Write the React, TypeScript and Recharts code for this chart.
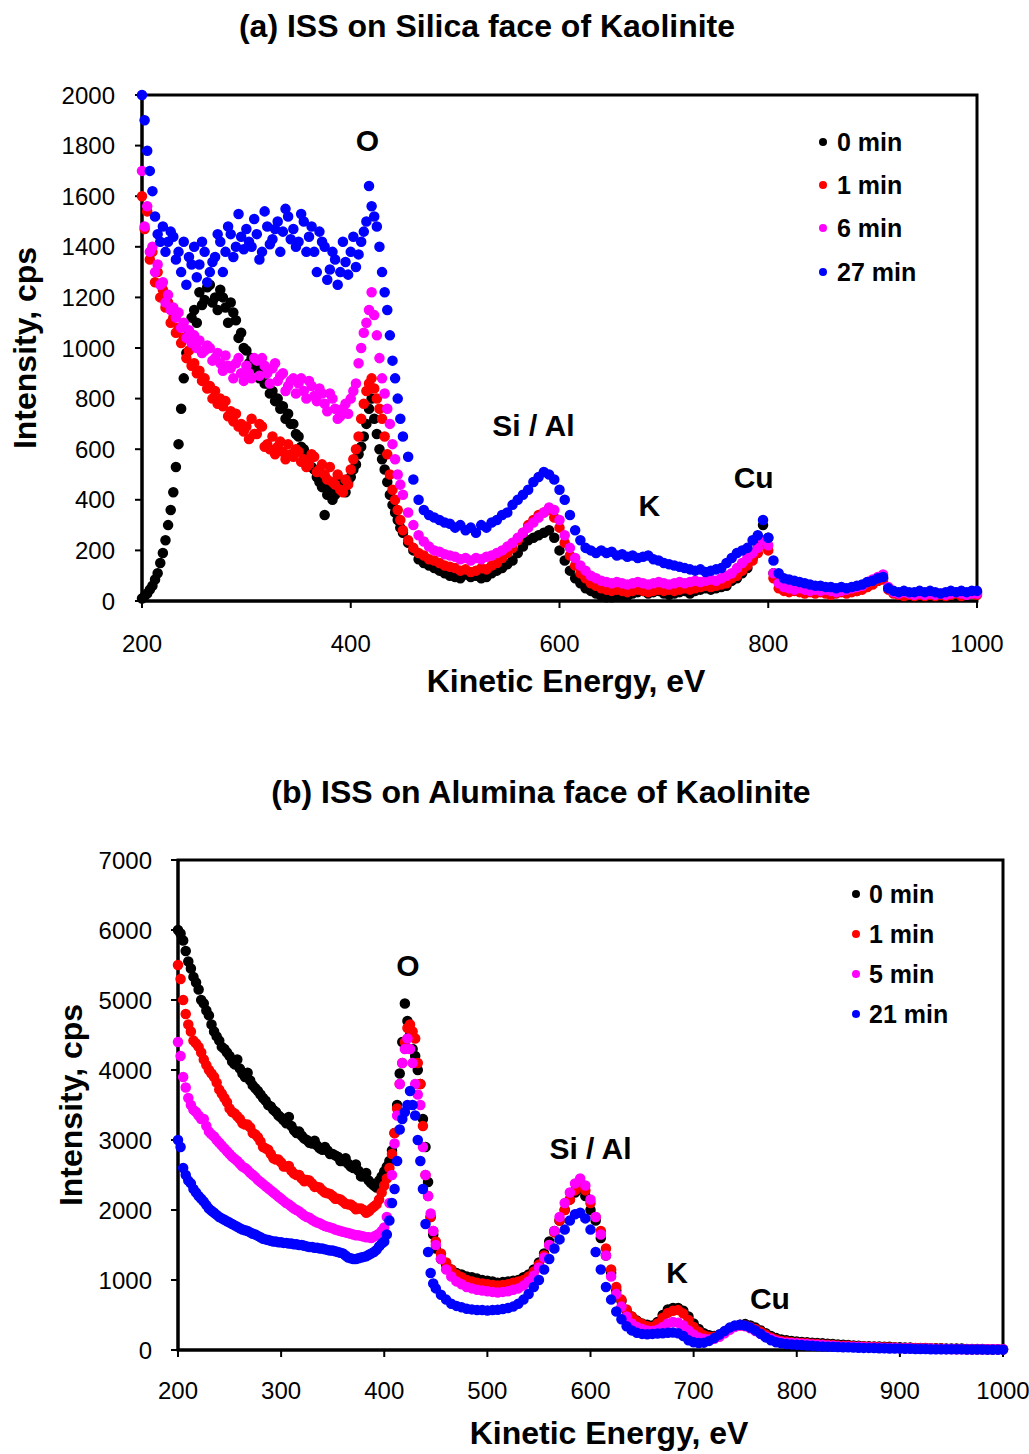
import React from 'react';
import { ScatterChart, Scatter, XAxis, YAxis, ZAxis, ReferenceArea, ReferenceDot } from 'recharts';

// kinetic energy grid, eV
const energy = [
  200, 205, 210, 215, 220, 225, 230, 235, 240, 245,
  250, 255, 260, 265, 270, 275, 280, 285, 290, 295,
  300, 305, 310, 315, 320, 325, 330, 335, 340, 345,
  350, 355, 360, 365, 370, 375, 380, 385, 390, 395,
  400, 405, 410, 415, 420, 425, 430, 435, 440, 445,
  450, 455, 460, 465, 470, 475, 480, 485, 490, 495,
  500, 505, 510, 515, 520, 525, 530, 535, 540, 545,
  550, 555, 560, 565, 570, 575, 580, 585, 590, 595,
  600, 605, 610, 615, 620, 625, 630, 635, 640, 645,
  650, 655, 660, 665, 670, 675, 680, 685, 690, 695,
  700, 705, 710, 715, 720, 725, 730, 735, 740, 745,
  750, 755, 760, 765, 770, 775, 780, 785, 790, 795,
  800, 805, 810, 815, 820, 825, 830, 835, 840, 845,
  850, 855, 860, 865, 870, 875, 880, 885, 890, 895,
  900, 905, 910, 915, 920, 925, 930, 935, 940, 945,
  950, 955, 960, 965, 970, 975, 980, 985, 990, 995,
  1000,
];
// extra readings in the dense low-energy part
const energyHalf = [
  202.5, 207.5, 212.5, 217.5, 222.5, 227.5, 232.5, 237.5, 242.5, 247.5,
  252.5, 257.5, 262.5, 267.5, 272.5, 277.5, 282.5, 287.5, 292.5, 297.5,
  302.5, 307.5, 312.5, 317.5, 322.5, 327.5, 332.5, 337.5, 342.5, 347.5,
  352.5, 357.5, 362.5, 367.5, 372.5, 377.5, 382.5, 387.5, 392.5, 397.5,
  402.5, 407.5, 412.5, 417.5, 422.5, 427.5, 432.5, 437.5, 442.5, 447.5,
];

// (a) silica face, cps
const silica0 = [
  10, 30, 60, 110, 190, 300, 430, 620, 880, 1060,
  1150, 1220, 1190, 1250, 1200, 1230, 1160, 1180, 1110, 1060,
  990, 960, 930, 900, 860, 830, 800, 770, 740, 700,
  650, 600, 560, 520, 470, 340, 450, 420, 470, 430,
  490, 540, 610, 700, 800, 660, 560, 470, 380, 320,
  270, 230, 200, 165, 150, 140, 130, 120, 110, 100,
  95, 90, 105, 95, 100, 90, 95, 110, 120, 130,
  145, 160, 190, 215, 240, 250, 260, 270, 280, 250,
  200, 160, 120, 90, 70, 50, 40, 30, 20, 15,
  15, 20, 25, 20, 30, 35, 40, 30, 35, 40,
  30, 25, 30, 35, 40, 30, 40, 45, 50, 45,
  50, 55, 60, 80, 90, 110, 130, 170, 220, 300,
  250, 110, 80, 70, 60, 65, 55, 60, 50, 55,
  50, 45, 50, 40, 45, 40, 45, 40, 50, 60,
  70, 80, 90, 50, 35, 30, 35, 30, 25, 30,
  25, 30, 25, 20, 25, 30, 25, 30, 25, 30,
  35,
];
const silica0Half = [
  20, 45, 85, 150, 240, 360, 530, 760, 980, 1120,
  1100, 1170, 1240, 1180, 1150, 1200, 1100, 1140, 1040, 1000,
  940, 920, 880, 860, 820, 790, 760, 720, 700, 660,
  610, 580, 530, 490, 450, 420, 400, 440, 450, 470,
  520, 580, 650, 760, 720, 600, 520, 420, 350, 290,
];
const silica1 = [
  1600, 1540, 1380, 1300, 1230, 1180, 1120, 1080, 1040, 990,
  940, 910, 880, 850, 830, 800, 790, 750, 740, 700,
  690, 720, 660, 690, 620, 650, 610, 590, 620, 570,
  590, 560, 540, 570, 520, 500, 530, 460, 440, 480,
  520, 600, 720, 830, 880, 800, 720, 580, 440, 360,
  280, 240, 210, 190, 180, 165, 160, 150, 140, 135,
  130, 120, 125, 115, 120, 130, 125, 140, 150, 170,
  190, 210, 240, 270, 300, 320, 340, 350, 360, 330,
  290, 230, 180, 140, 110, 90, 70, 60, 50, 45,
  40, 45, 40, 35, 40, 45, 40, 35, 40, 45,
  40, 45, 40, 45, 50, 45, 50, 55, 60, 55,
  60, 65, 70, 90, 100, 120, 140, 160, 190, 220,
  200, 90, 50, 40, 35, 40, 35, 30, 35, 30,
  35, 30, 25, 30, 35, 30, 35, 40, 45, 55,
  65, 80, 85, 45, 30, 25, 20, 25, 20, 25,
  20, 25, 20, 25, 20, 25, 30, 20, 25, 30,
  25,
];
const silica1Half = [
  1470, 1350, 1260, 1200, 1160, 1100, 1060, 1020, 960, 930,
  900, 870, 840, 800, 780, 770, 730, 710, 690, 670,
  640, 660, 700, 610, 600, 580, 630, 560, 580, 600,
  550, 530, 580, 510, 540, 480, 470, 500, 430, 460,
  560, 650, 780, 860, 840, 760, 650, 500, 400, 320,
];
const silica6 = [
  1700, 1560, 1400, 1330, 1260, 1210, 1160, 1140, 1100, 1070,
  1050, 1030, 990, 1000, 960, 940, 970, 920, 940, 900,
  930, 880, 950, 960, 900, 920, 870, 900, 850, 880,
  860, 830, 870, 810, 840, 780, 820, 760, 730, 780,
  800, 860, 1000, 1100, 1220, 1050, 880, 760, 620, 500,
  420, 350, 300, 260, 235, 215, 200, 195, 185, 180,
  175, 165, 170, 160, 170, 165, 175, 180, 190, 200,
  215, 230, 250, 270, 290, 310, 330, 350, 370, 360,
  320, 260, 210, 170, 140, 120, 100, 90, 80, 75,
  70, 75, 70, 65, 70, 75, 70, 65, 70, 75,
  70, 65, 70, 75, 70, 75, 80, 75, 80, 85,
  80, 90, 100, 110, 130, 150, 170, 190, 210, 240,
  220, 110, 70, 55, 50, 45, 50, 45, 40, 45,
  40, 45, 40, 35, 40, 45, 50, 55, 60, 75,
  85, 95, 105, 55, 35, 30, 35, 30, 25, 30,
  25, 30, 25, 30, 25, 30, 35, 30, 25, 30,
  30,
];
const silica6Half = [
  1480, 1380, 1300, 1250, 1180, 1150, 1120, 1080, 1040, 1020,
  1000, 980, 1010, 950, 980, 910, 930, 880, 960, 870,
  900, 960, 890, 930, 860, 940, 890, 830, 870, 820,
  880, 800, 850, 790, 820, 750, 800, 720, 760, 740,
  830, 940, 1060, 1150, 1130, 960, 820, 700, 560, 460,
];
const silica27 = [
  2000, 1780, 1620, 1450, 1480, 1420, 1440, 1380, 1420, 1360,
  1400, 1330, 1380, 1300, 1360, 1420, 1380, 1450, 1400, 1440,
  1470, 1400, 1450, 1380, 1480, 1430, 1500, 1460, 1520, 1470,
  1420, 1500, 1440, 1380, 1460, 1400, 1310, 1350, 1300, 1340,
  1380, 1320, 1420, 1500, 1560, 1480, 1300, 1150, 950, 800,
  650, 570, 480, 400, 360, 340, 330, 320, 310, 305,
  290, 300, 280, 290, 270, 300, 290, 310, 320, 340,
  350, 380, 400, 420, 440, 470, 490, 510, 500, 480,
  440, 400, 340, 280, 240, 210, 200, 190, 200, 190,
  195, 180, 185, 175, 180, 170, 175, 180, 165, 160,
  150, 145, 140, 135, 130, 125, 120, 125, 115, 120,
  125, 130, 150, 170, 190, 200, 210, 240, 260, 320,
  250, 160, 110, 90, 85, 80, 75, 70, 65, 60,
  60, 55, 55, 50, 55, 50, 55, 60, 65, 75,
  80, 90, 95, 50, 40, 35, 40, 35, 35, 40,
  35, 40, 35, 30, 35, 40, 35, 40, 35, 40,
  40,
];
const silica27Half = [
  1900, 1700, 1520, 1420, 1380, 1460, 1350, 1300, 1250, 1330,
  1280, 1420, 1260, 1340, 1450, 1300, 1480, 1360, 1530, 1390,
  1420, 1510, 1350, 1540, 1410, 1470, 1380, 1550, 1430, 1400,
  1530, 1380, 1480, 1300, 1420, 1270, 1380, 1250, 1420, 1290,
  1440, 1370, 1460, 1640, 1520, 1400, 1220, 1050, 880, 720,
];

// (b) alumina face, cps
const alumina0 = [
  6000, 5850, 5550, 5330, 5150, 4950, 4780, 4550, 4420, 4300,
  4200, 4080, 4020, 3900, 3850, 3740, 3650, 3560, 3480, 3400,
  3320, 3240, 3200, 3100, 3060, 3000, 2950, 2920, 2860, 2850,
  2800, 2760, 2700, 2660, 2600, 2560, 2480, 2420, 2350, 2420,
  2550, 2700, 3100, 3950, 4950, 4500, 4200, 3800, 2900, 1900,
  1450, 1300, 1220, 1150, 1100, 1080, 1050, 1040, 1020, 1000,
  990, 980, 960, 970, 980, 990, 1000, 1040, 1080, 1150,
  1250, 1380, 1550, 1700, 1850, 2000, 2150, 2250, 2300, 2200,
  2000, 1850, 1600, 1350, 1100, 850, 700, 560, 480, 420,
  380, 360, 350, 400, 500, 580, 600, 600, 560, 480,
  380, 300, 240, 210, 200, 220, 260, 300, 340, 360,
  370, 350, 320, 280, 240, 200, 170, 150, 140, 130,
  120, 115, 110, 105, 100, 95, 90, 85, 80, 75,
  70, 65, 60, 55, 55, 50, 50, 45, 45, 40,
  40, 35, 35, 30, 30, 30, 25, 25, 25, 20,
  20, 20, 20, 15, 15, 15, 15, 10, 10, 10,
  10,
];
const alumina0Half = [
  5950, 5700, 5450, 5250, 5000, 4850, 4650, 4480, 4330, 4250,
  4120, 4150, 3950, 3960, 3780, 3700, 3600, 3500, 3430, 3350,
  3280, 3330, 3140, 3120, 3020, 2960, 2990, 2880, 2900, 2800,
  2780, 2700, 2740, 2620, 2650, 2480, 2530, 2380, 2320, 2480,
  2620, 2850, 3500, 4400, 4700, 4300, 4000, 3300, 2400, 1650,
];
const alumina1 = [
  5500, 5000, 4650, 4420, 4330, 4150, 4000, 3900, 3720, 3600,
  3450, 3380, 3300, 3220, 3180, 3080, 2980, 2880, 2800, 2720,
  2680, 2620, 2560, 2500, 2450, 2430, 2380, 2330, 2280, 2240,
  2200, 2160, 2120, 2080, 2050, 2020, 2000, 1980, 2050, 2150,
  2350, 2600, 3100, 3800, 4400, 4650, 4450, 3800, 2500, 1900,
  1550, 1380, 1250, 1150, 1080, 1040, 1000, 980, 960, 950,
  940, 930, 920, 930, 940, 960, 980, 1000, 1050, 1120,
  1220, 1350, 1500, 1680, 1850, 2000, 2150, 2280, 2350, 2280,
  2100, 1900, 1700, 1450, 1150, 900, 720, 580, 480, 410,
  370, 340, 330, 380, 460, 530, 560, 570, 520, 430,
  330, 260, 210, 190, 190, 210, 250, 300, 340, 350,
  350, 330, 300, 260, 220, 180, 150, 130, 120, 110,
  105, 100, 95, 90, 85, 80, 75, 70, 65, 60,
  60, 55, 50, 50, 45, 45, 40, 40, 35, 35,
  30, 30, 30, 25, 25, 25, 20, 20, 20, 15,
  15, 15, 15, 10, 10, 10, 10, 10, 10, 10,
  10,
];
const alumina1Half = [
  5300, 4800, 4550, 4380, 4250, 4070, 3950, 3820, 3660, 3540,
  3400, 3340, 3240, 3220, 3100, 3040, 2900, 2860, 2740, 2720,
  2620, 2630, 2520, 2500, 2410, 2420, 2330, 2320, 2250, 2230,
  2160, 2150, 2090, 2080, 2010, 2020, 1960, 2020, 2080, 2250,
  2450, 2800, 3450, 4100, 4600, 4550, 4100, 3200, 2200, 1700,
];
const alumina5 = [
  4400, 3900, 3600, 3430, 3350, 3300, 3120, 3050, 2960, 2880,
  2800, 2730, 2660, 2600, 2530, 2470, 2400, 2340, 2280, 2220,
  2160, 2100, 2050, 2000, 1950, 1900, 1860, 1820, 1790, 1760,
  1740, 1710, 1690, 1670, 1650, 1640, 1620, 1610, 1620, 1660,
  1750, 2100, 2950, 3800, 4300, 4300, 3800, 3500, 2500, 1950,
  1500, 1300, 1150, 1050, 980, 940, 900, 880, 860, 850,
  840, 830, 820, 830, 840, 860, 880, 920, 980, 1060,
  1180, 1320, 1500, 1700, 1900, 2100, 2250, 2380, 2450, 2350,
  2150, 1900, 1650, 1350, 1050, 800, 620, 480, 380, 330,
  300, 280, 270, 290, 330, 380, 400, 390, 350, 280,
  220, 180, 160, 150, 160, 190, 240, 290, 330, 350,
  340, 310, 270, 230, 190, 160, 130, 115, 105, 100,
  95, 90, 85, 80, 75, 70, 65, 60, 55, 50,
  50, 45, 45, 40, 40, 35, 35, 30, 30, 30,
  25, 25, 25, 20, 20, 20, 20, 15, 15, 15,
  15, 10, 10, 10, 10, 10, 10, 10, 10, 10,
  10,
];
const alumina5Half = [
  4200, 3750, 3500, 3400, 3300, 3200, 3080, 3000, 2920, 2840,
  2760, 2700, 2620, 2570, 2500, 2430, 2370, 2310, 2250, 2190,
  2130, 2080, 2020, 1980, 1920, 1890, 1840, 1810, 1770, 1750,
  1720, 1700, 1680, 1660, 1640, 1630, 1610, 1600, 1640, 1700,
  1900, 2500, 3350, 4100, 4450, 4100, 3650, 2900, 2200, 1700,
];
const alumina21 = [
  3000, 2600, 2420, 2300, 2200, 2120, 2020, 1960, 1900, 1860,
  1820, 1780, 1740, 1710, 1680, 1650, 1610, 1580, 1560, 1550,
  1540, 1530, 1520, 1510, 1500, 1480, 1470, 1460, 1450, 1430,
  1420, 1400, 1380, 1320, 1300, 1310, 1330, 1360, 1400, 1480,
  1550, 1850, 2300, 3150, 3400, 3700, 3350, 2700, 1800, 1100,
  880, 790, 720, 660, 630, 610, 590, 580, 570, 570,
  565, 570, 575, 585, 600, 620, 660, 720, 800, 900,
  1000, 1150, 1300, 1450, 1580, 1720, 1850, 1940, 1960, 1880,
  1720, 1400, 1150, 900, 720, 550, 440, 340, 280, 245,
  230, 225, 230, 235, 240, 245, 250, 240, 200, 140,
  110, 100, 105, 130, 170, 220, 270, 320, 350, 360,
  350, 320, 280, 230, 180, 140, 110, 95, 85, 80,
  75, 70, 65, 60, 55, 50, 48, 45, 42, 40,
  38, 35, 33, 30, 30, 28, 25, 25, 22, 20,
  20, 18, 18, 15, 15, 15, 12, 12, 12, 10,
  10, 10, 10, 8, 8, 8, 8, 5, 5, 5,
  5,
];
const alumina21Half = [
  2900, 2500, 2380, 2250, 2160, 2070, 1990, 1930, 1880, 1840,
  1800, 1760, 1720, 1700, 1660, 1630, 1590, 1570, 1550, 1540,
  1530, 1520, 1510, 1500, 1490, 1470, 1460, 1450, 1440, 1420,
  1410, 1390, 1350, 1310, 1300, 1320, 1340, 1380, 1430, 1520,
  1650, 2100, 2700, 3300, 3500, 3500, 3000, 2300, 1400, 950,
];

const silicaXTicks = [200, 400, 600, 800, 1000];
const silicaYTicks = [0, 200, 400, 600, 800, 1000, 1200, 1400, 1600, 1800, 2000];
const aluminaXTicks = [200, 300, 400, 500, 600, 700, 800, 900, 1000];
const aluminaYTicks = [0, 1000, 2000, 3000, 4000, 5000, 6000, 7000];

const silicaNames = ['0 min', '1 min', '6 min', '27 min'];
const aluminaNames = ['0 min', '1 min', '5 min', '21 min'];
const colors = ['#000000', '#ff0000', '#ff00ff', '#0000ff'];

const FONT = '"Liberation Sans", Arial, Helvetica, sans-serif';

const toPoints = (ys: number[], extra: number[]) => [
  ...ys.map((y, i) => ({ x: energy[i], y })),
  ...extra.map((y, i) => ({ x: energyHalf[i], y })),
];

function Txt({ text, cx, cy, size, bold = true, rotate = false }: any) {
  return (
    <div
      style={{
        position: 'absolute',
        left: cx,
        top: cy,
        transform: `translate(-50%, -50%)${rotate ? ' rotate(-90deg)' : ''}`,
        fontSize: size,
        fontWeight: bold ? 700 : 400,
        lineHeight: 1,
        whiteSpace: 'nowrap',
        color: '#000',
      }}
    >
      {text}
    </div>
  );
}

function LegendBox({ names, dotX, textX, rows }: any) {
  return (
    <>
      {names.map((n: string, i: number) => (
        <React.Fragment key={n}>
          <div
            style={{
              position: 'absolute',
              left: dotX - 4,
              top: rows[i] - 4,
              width: 8,
              height: 8,
              borderRadius: 4,
              background: colors[i],
            }}
          />
          <div
            style={{
              position: 'absolute',
              left: textX,
              top: rows[i] - 12.5,
              fontSize: 25,
              fontWeight: 700,
              lineHeight: 1,
              whiteSpace: 'nowrap',
            }}
          >
            {n}
          </div>
        </React.Fragment>
      ))}
    </>
  );
}

const tickStyle = { fontSize: 24, fill: '#000', fontFamily: FONT };
const axisLine = { stroke: '#000', strokeWidth: 3 };
const tickLine = { stroke: '#000', strokeWidth: 2 };

function note(text: string) {
  return { value: text, position: 'center' as const, fontSize: 30, fontWeight: 700, fill: '#000', fontFamily: FONT };
}

export default function App() {
  const silica = [[silica0, silica0Half], [silica1, silica1Half], [silica6, silica6Half], [silica27, silica27Half]];
  const alumina = [[alumina0, alumina0Half], [alumina1, alumina1Half], [alumina5, alumina5Half], [alumina21, alumina21Half]];
  return (
    <div style={{ position: 'absolute', left: 0, top: 0, width: 1029, height: 1454, background: '#fff', fontFamily: FONT }}>
      <div style={{ position: 'absolute', left: 0, top: 0 }}>
        <ScatterChart width={1029} height={730} margin={{ top: 95, right: 52, bottom: 69, left: 82 }}>
          <XAxis type="number" dataKey="x" domain={[200, 1000]} ticks={silicaXTicks} interval={0} height={60}
            tick={tickStyle} tickSize={7} tickMargin={27} axisLine={axisLine} tickLine={tickLine} />
          <YAxis type="number" dataKey="y" domain={[0, 2000]} ticks={silicaYTicks} interval={0} width={60}
            tick={tickStyle} tickSize={7} tickMargin={20} axisLine={axisLine} tickLine={tickLine} />
          <ZAxis range={[90, 90]} />
          <ReferenceArea x1={200} x2={1000} y1={0} y2={2000} fill="none" stroke="#000" strokeWidth={3} />
          {silica.map(([ys, extra], i) => (
            <Scatter key={silicaNames[i]} name={silicaNames[i]} data={toPoints(ys, extra)} fill={colors[i]}
              stroke={colors[i]} strokeWidth={1.5} shape="circle" isAnimationActive={false} />
          ))}
          <ReferenceDot x={416} y={1822} r={0} fill="none" stroke="none" label={note('O')} />
          <ReferenceDot x={575} y={696} r={0} fill="none" stroke="none" label={note('Si / Al')} />
          <ReferenceDot x={686} y={379} r={0} fill="none" stroke="none" label={note('K')} />
          <ReferenceDot x={786} y={490} r={0} fill="none" stroke="none" label={note('Cu')} />
        </ScatterChart>
      </div>
      <div style={{ position: 'absolute', left: 0, top: 730 }}>
        <ScatterChart width={1029} height={724} margin={{ top: 130, right: 26, bottom: 44, left: 118 }}>
          <XAxis type="number" dataKey="x" domain={[200, 1000]} ticks={aluminaXTicks} interval={0} height={60}
            tick={tickStyle} tickSize={7} tickMargin={25} axisLine={axisLine} tickLine={tickLine} />
          <YAxis type="number" dataKey="y" domain={[0, 7000]} ticks={aluminaYTicks} interval={0} width={60}
            tick={tickStyle} tickSize={7} tickMargin={19} axisLine={axisLine} tickLine={tickLine} />
          <ZAxis range={[90, 90]} />
          <ReferenceArea x1={200} x2={1000} y1={0} y2={7000} fill="none" stroke="#000" strokeWidth={3} />
          {alumina.map(([ys, extra], i) => (
            <Scatter key={aluminaNames[i]} name={aluminaNames[i]} data={toPoints(ys, extra)} fill={colors[i]}
              stroke={colors[i]} strokeWidth={1.5} shape="circle" isAnimationActive={false} />
          ))}
          <ReferenceDot x={423} y={5500} r={0} fill="none" stroke="none" label={note('O')} />
          <ReferenceDot x={600} y={2886} r={0} fill="none" stroke="none" label={note('Si / Al')} />
          <ReferenceDot x={684} y={1114} r={0} fill="none" stroke="none" label={note('K')} />
          <ReferenceDot x={774} y={743} r={0} fill="none" stroke="none" label={note('Cu')} />
        </ScatterChart>
      </div>

      <Txt text="(a) ISS on Silica face of Kaolinite" cx={487} cy={26} size={32} />
      <Txt text="Kinetic Energy, eV" cx={566} cy={681} size={32} />
      <Txt text="Intensity, cps" cx={25} cy={348} size={32} rotate />
      <LegendBox names={silicaNames} dotX={823} textX={837} rows={[142, 185, 228, 272]} />

      <Txt text="(b) ISS on Alumina face of Kaolinite" cx={541} cy={792} size={32} />
      <Txt text="Kinetic Energy, eV" cx={609} cy={1433} size={32} />
      <Txt text="Intensity, cps" cx={71} cy={1105} size={32} rotate />
      <LegendBox names={aluminaNames} dotX={856} textX={869} rows={[894, 934, 974, 1014]} />
    </div>
  );
}
